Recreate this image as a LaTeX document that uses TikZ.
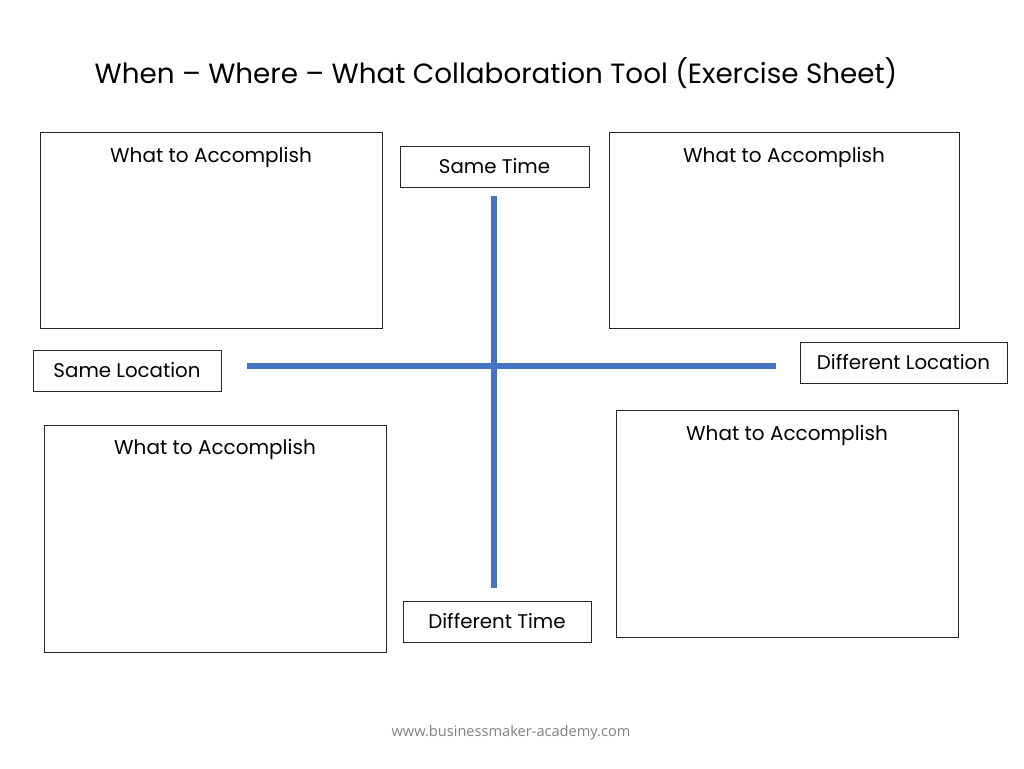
\documentclass[tikz,border=0pt]{standalone}
\usepackage{fontspec}
\setmainfont{Poppins}
\newfontfamily\footfont{Open Sans}
\definecolor{axisblue}{HTML}{4472C4}
\definecolor{footgray}{HTML}{808080}
\begin{document}
\begin{tikzpicture}[x=1pt,y=-1pt,
  quad/.style={draw=black!85, line width=0.9pt},
  tag/.style={draw=black!85, line width=0.9pt, minimum height=41pt, inner sep=0pt, font=\fontsize{19.8}{23}\selectfont},
  qlabel/.style={font=\fontsize{20}{24}\selectfont, anchor=center},
  axis/.style={draw=axisblue, line width=6.5pt}]
\useasboundingbox (0,0) rectangle (1024,768);
\node[font=\fontsize{27.8}{33}\selectfont, anchor=center] (title) at (496,73) {When -- Where -- What Collaboration Tool (Exercise Sheet)};
% quadrant boxes
\draw[quad] (40,132) rectangle (382,328);
\node[qlabel] (tl) at (211,157) {What to Accomplish};
\draw[quad] (609,132) rectangle (959,328);
\node[qlabel] (tr) at (784,157) {What to Accomplish};
\draw[quad] (44,425) rectangle (386,652);
\node[qlabel] (bl) at (215,449) {What to Accomplish};
\draw[quad] (616,410) rectangle (958,637);
\node[qlabel] (br) at (787,435) {What to Accomplish};
% axis tags
\node[tag, minimum width=189pt] (st) at (494.5,166.5) {\raisebox{-1.5pt}{Same Time}};
\node[tag, minimum width=188pt] (sl) at (127,370.5) {\raisebox{-1.5pt}{Same Location}};
\node[tag, minimum width=207pt] (dl) at (903.5,362.5) {\raisebox{-1.5pt}{Different Location}};
\node[tag, minimum width=188pt] (dt) at (497,621.5) {\raisebox{-1.5pt}{Different Time}};
% axes
\coordinate (vtop) at (494,196);
\coordinate (vbot) at (494,588);
\coordinate (hl) at (247,366);
\coordinate (hr) at (776,366);
\draw[axis] (vtop) -- (vbot);
\draw[axis] (hl) -- (hr);
\node[font=\footfont\fontsize{14.6}{17}\selectfont, text=footgray] (foot) at (511,733) {www.businessmaker-academy.com};
\end{tikzpicture}
\end{document}
